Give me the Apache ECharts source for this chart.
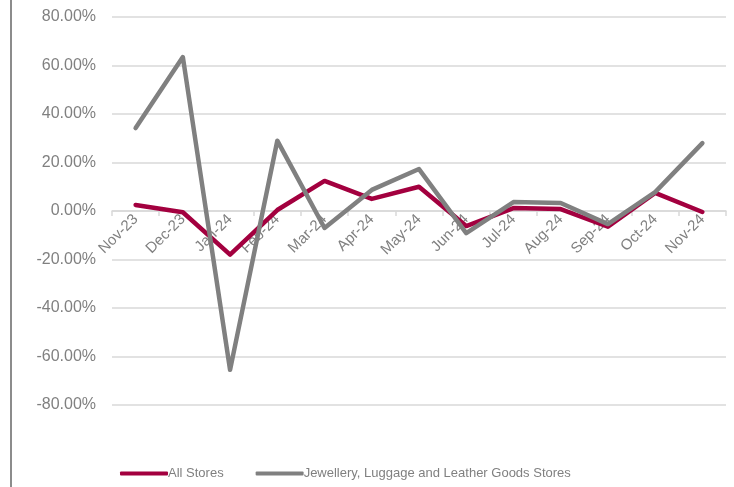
<!DOCTYPE html>
<html>
<head>
<meta charset="utf-8">
<script src="https://cdn.jsdelivr.net/npm/echarts@6/dist/echarts.min.js"></script>
<style>
html, body { margin: 0; padding: 0; background: #fff; }
#chart { width: 734px; height: 487px; }
</style>
</head>
<body>
<div id="chart"></div>
<script>
var months = ['Nov-23', 'Dec-23', 'Jan-24', 'Feb-24', 'Mar-24', 'Apr-24', 'May-24', 'Jun-24', 'Jul-24', 'Aug-24', 'Sep-24', 'Oct-24', 'Nov-24'];
var allStores = [2.5, -0.5, -18, 0.4, 12.4, 5, 10, -6.2, 1.2, 0.8, -6.5, 7.5, -0.4];
var jewellery = [34.2, 63.5, -65.5, 29, -7, 8.7, 17.3, -9.1, 3.7, 3.3, -5.4, 7.8, 28];
var seriesNames = ['All Stores', 'Jewellery, Luggage and Leather Goods Stores'];

var myChart = echarts.init(document.getElementById('chart'));
var option = {
	backgroundColor: '#fff',
	animation: false,
	textStyle: {
		fontFamily: 'Liberation Sans, Arial, sans-serif'
	},
	graphic: [{
		type: 'rect',
		shape: { x: 10, y: 0, width: 2, height: 487 },
		style: { fill: '#8c8c8c' }
	}],
	grid: {
		left: 112,
		right: 8,
		top: 17,
		bottom: 82
	},
	legend: {
		bottom: 2,
		left: 115,
		itemWidth: 48,
		itemHeight: 4,
		itemGap: 32,
		icon: 'roundRect',
		textStyle: {
			color: '#808080',
			fontSize: 13,
			padding: [0, 0, 0, -5]
		},
		data: seriesNames
	},
	xAxis: {
		type: 'category',
		data: months,
		boundaryGap: true,
		offset: -194,
		axisLine: {
			onZero: false,
			lineStyle: { color: '#d9d9d9', width: 1.5 }
		},
		axisTick: {
			show: true,
			length: 5,
			lineStyle: { color: '#d9d9d9', width: 1.5 }
		},
		axisLabel: {
			rotate: 45,
			color: '#808080',
			fontSize: 15,
			margin: 6,
			interval: 0
		}
	},
	yAxis: {
		type: 'value',
		min: -80,
		max: 80,
		interval: 20,
		axisLine: { show: false },
		axisTick: { show: false },
		splitLine: {
			lineStyle: { color: '#d9d9d9', width: 1.5 }
		},
		axisLabel: {
			color: '#808080',
			fontSize: 16,
			margin: 16,
			formatter: function(v) {
				return v.toFixed(2) + '%';
			}
		}
	},
	series: [{
		name: seriesNames[0],
		type: 'line',
		data: allStores,
		symbol: 'none',
		z: 2,
		lineStyle: { color: '#a3003f', width: 4.5, cap: 'round', join: 'round' },
		itemStyle: { color: '#a3003f' }
	}, {
		name: seriesNames[1],
		type: 'line',
		data: jewellery,
		symbol: 'none',
		z: 3,
		lineStyle: { color: '#808080', width: 4.5, cap: 'round', join: 'round' },
		itemStyle: { color: '#808080' }
	}]
};
myChart.setOption(option);
</script>
</body>
</html>
